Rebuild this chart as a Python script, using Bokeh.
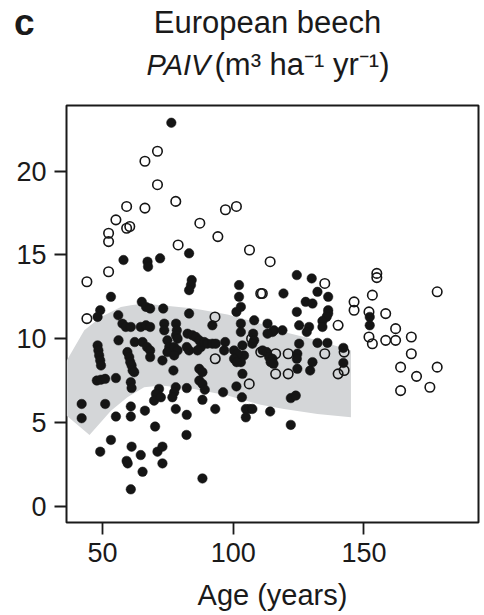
from bokeh.plotting import figure
from bokeh.models import Range1d, FixedTicker, LinearAxis
from bokeh.layouts import column
from bokeh.core.properties import value
from bokeh.embed import file_html
from bokeh.resources import INLINE

# ---- data ----
filled_age = [76.3, 58.0, 67.2, 67.4, 72.0, 83.1, 84.1, 83.8, 83.1, 53.2, 102.2, 102.2, 102.9, 101.2, 49.1, 48.1,
              65.0, 66.6, 68.2, 73.2, 83.1, 56.0,
              48.1, 48.4, 48.7, 49.1, 49.4, 47.8, 49.4, 51.0, 55.1, 42.0, 42.0, 51.0, 49.1, 53.2, 55.1, 57.6, 58.9,
              60.8, 56.1, 59.5, 60.2, 60.6, 61.1, 61.5, 62.1, 60.8, 61.1, 62.3, 60.8, 60.8, 66.2, 64.6, 66.6, 68.2,
              65.3, 67.0, 68.2, 68.2, 73.6, 73.6, 74.8, 75.5, 74.8, 78.1, 78.4, 78.1, 78.7, 77.4, 78.7, 77.4, 72.9,
              77.1, 71.6, 70.4, 69.7, 72.3, 78.0, 77.4, 76.7, 82.2, 78.0, 82.2, 70.1, 82.1, 61.1, 64.6, 59.2, 59.6,
              65.3, 60.8, 71.0, 72.9, 72.9, 88.2, 82.5, 84.4, 83.1, 82.2, 85.7, 87.0, 87.6, 86.3, 88.9, 90.1, 92.0,
              93.3, 87.0, 88.2, 87.0, 88.2, 89.1, 88.2, 93.1, 96.1, 92.0, 96.9, 96.5, 102.9, 102.9, 103.5, 104.1,
              102.9, 103.5, 101.2, 103.3, 104.8, 104.8, 106.1, 107.3, 107.6, 108.0, 107.3, 108.0,
              100.3, 101.6, 100.3, 101.3,
              124.3, 130.0, 132.2, 136.3, 119.2, 127.7, 130.3, 136.3, 136.3, 135.7, 124.3, 152.2, 113.1, 125.2,
              129.0, 134.1, 134.1, 115.6, 118.8,
              128.1, 152.2, 115.0, 113.1, 111.2, 112.8, 113.7, 115.0, 114.3, 115.4, 124.5, 124.3, 124.5, 125.2,
              132.2, 136.0, 130.3, 129.4, 142.1, 142.1, 122.0, 123.9, 114.1, 122.0]
filled_paiv = [22.9, 14.7, 14.6, 14.3, 14.8, 15.1, 13.5, 13.2, 12.9, 12.5, 13.2, 12.5, 11.9, 11.6, 11.7, 11.3,
               12.2, 11.9, 11.8, 11.8, 11.5, 11.4,
               9.6, 9.3, 9.0, 8.7, 8.4, 7.5, 7.55, 7.6, 7.65, 6.1, 5.25, 6.1, 3.25, 3.95, 5.35, 10.9, 10.7,
               10.7, 9.9, 9.2, 8.9, 8.6, 8.4, 8.1, 8.0, 7.4, 7.05, 9.8, 5.95, 5.35, 5.7, 10.7, 10.8, 10.7,
               9.8, 9.5, 9.3, 8.9, 10.9, 10.5, 9.9, 9.5, 9.2, 10.9, 10.5, 10.2, 10.0, 9.5, 9.3, 9.0, 8.7,
               8.1, 7.0, 6.7, 6.3, 6.5, 7.1, 6.8, 6.5, 7.05, 5.8, 5.45, 4.75, 4.25, 3.55, 3.05, 2.7, 2.55,
               2.05, 1.0, 3.25, 3.55, 2.55, 1.65, 10.3, 10.2, 9.3, 9.5, 10.1, 9.9, 9.5, 9.3, 9.8, 9.7, 9.7,
               9.7, 8.2, 8.0, 7.5, 7.3, 6.95, 6.35, 5.8, 6.8, 10.8, 9.8, 9.3, 10.9, 10.4, 9.6, 9.0,
               8.6, 7.9, 7.15, 6.5, 5.8, 5.3, 5.8, 5.8, 10.3, 9.9, 9.7, 11.1,
               9.3, 9.1, 8.8, 8.6,
               13.8, 13.6, 12.8, 12.5, 12.7, 12.2, 12.1, 11.7, 11.5, 11.3, 11.6, 11.3, 10.9, 10.8,
               10.7, 11.05, 10.7, 10.5, 10.5,
               10.4, 10.8, 10.4, 10.3, 9.3, 9.2, 8.9, 8.8, 8.6, 8.5, 9.1, 8.8, 8.2, 9.7,
               9.75, 9.75, 8.6, 8.1, 9.45, 8.55, 6.45, 6.6, 5.65, 4.85]

open_age = [71.0, 66.2, 71.0, 78.0, 59.2, 66.2, 55.1, 59.2, 60.4, 52.3, 52.3, 87.2, 97.0, 101.2, 94.1, 78.9,
            106.2, 52.3, 44.0, 44.0, 93.0, 110.5, 93.1, 106.1, 107.0, 110.5,
            114.1, 135.0, 154.9, 154.9, 178.0, 111.1, 146.2, 146.2, 153.2, 151.9, 158.3, 140.1, 162.1,
            151.9, 153.2, 158.3, 162.1, 168.1, 168.1, 164.0, 170.1, 178.0, 175.2, 164.0, 116.2, 116.2,
            121.0, 121.0, 135.0, 142.4, 142.4, 140.1]
open_paiv = [21.2, 20.6, 19.2, 18.2, 17.9, 17.8, 17.1, 16.6, 16.7, 16.3, 15.8, 16.9, 17.7, 17.9, 16.1, 15.6,
             15.3, 14.0, 13.4, 11.2, 11.3, 12.7, 8.8, 7.3, 10.0, 9.2,
             14.6, 13.3, 13.9, 13.65, 12.8, 12.7, 12.2, 11.7, 12.6, 11.6, 11.5, 10.8, 10.6,
             10.1, 9.7, 9.9, 9.9, 10.1, 9.1, 8.3, 7.75, 8.3, 7.1, 6.9, 9.1, 7.9,
             7.9, 9.1, 9.1, 9.2, 8.1, 7.9]

band_age = [36.3, 43.0, 49.4, 57.0, 60.8, 65.9, 72.3, 85.0, 97.8, 110.5, 119.4, 132.2, 145.0,
            145.0, 132.2, 119.4, 110.5, 97.8, 85.0, 72.3, 65.9, 59.5, 53.2, 45.0, 36.3]
band_paiv = [8.7, 10.5, 11.3, 11.9, 12.0, 12.1, 12.0, 11.8, 11.45, 10.9, 10.4, 9.9, 9.3,
             5.3, 5.5, 5.8, 6.05, 6.6, 7.0, 7.2, 7.1, 6.5, 5.7, 4.25, 5.4]

x_ticks = [50, 100, 150]
y_ticks = [0, 5, 10, 15, 20]

panel_letter = "c"
title_text = "European beech"
var_text = "PAIV"
unit_text = "(m³ ha⁻¹ yr⁻¹)"
x_label = "Age (years)"

FONT = "Liberation Sans"
INK = "#1a1a1a"
LEFT, RIGHT = 66, 478          # plot frame edges in page pixels
H1, H2 = 44, 59                # heights of the two heading rows


def heading(height):
    f = figure(width=484, height=height, output_backend="svg", toolbar_location=None,
               x_range=Range1d(LEFT, RIGHT), y_range=Range1d(height, 0),
               x_axis_type=None, y_axis_type=None,
               min_border_left=LEFT, min_border_right=484 - RIGHT,
               min_border_top=0, min_border_bottom=0, outline_line_color=None)
    f.grid.visible = False
    return f


# row 1: panel letter (as a left axis label) + species name
head1 = heading(H1)
letter_axis = LinearAxis(ticker=FixedTicker(ticks=[]), axis_line_color=None,
                         major_tick_line_color=None, minor_tick_line_color=None,
                         major_label_text_font_size="0px",
                         axis_label=panel_letter, axis_label_orientation="horizontal",
                         axis_label_text_font=FONT, axis_label_text_font_size="37px",
                         axis_label_text_font_style="bold", axis_label_text_color=INK,
                         axis_label_standoff=32)
head1.add_layout(letter_axis, "left")
head1.text(x=[267], y=[H1 / 2], text=[title_text], text_font=value(FONT), text_font_size="31px",
           text_align="center", text_baseline="middle", text_color=INK)

# row 2: variable and units
head2 = heading(H2)
head2.text(x=[146], y=[64 - H1], text=[var_text], text_font=value(FONT), text_font_size="29px",
           text_font_style="italic", text_align="left", text_baseline="middle", text_color=INK)
head2.text(x=[214], y=[64 - H1], text=[unit_text], text_font=value(FONT), text_font_size="31px",
           text_align="left", text_baseline="middle", text_color=INK)

# ---- main scatter ----
p = figure(width=484, height=615 - H1 - H2, output_backend="svg", toolbar_location=None,
           x_range=Range1d(36.2, 193.8), y_range=Range1d(-0.98, 23.93),
           min_border_left=LEFT, min_border_right=484 - RIGHT, min_border_top=2, min_border_bottom=93)

p.patch(band_age, band_paiv, fill_color="#d4d6d8", line_color=None)
p.scatter(filled_age, filled_paiv, size=9.5, fill_color="#151515", line_color="#151515", line_width=0.5)
p.scatter(open_age, open_paiv, size=9.5, fill_color=None, line_color="#151515", line_width=1.6)

p.grid.visible = False
p.outline_line_color = INK
p.outline_line_width = 2
p.outline_line_alpha = 1

for ax in (p.xaxis[0], p.yaxis[0]):
    ax.axis_line_color = None
    ax.major_tick_line_color = INK
    ax.major_tick_line_width = 1.8
    ax.major_tick_out = 12
    ax.major_tick_in = 0
    ax.minor_tick_line_color = None
    ax.major_label_text_font = FONT
    ax.major_label_text_font_size = "27px"
    ax.major_label_text_color = INK
    ax.major_label_standoff = 8

p.xaxis.ticker = FixedTicker(ticks=x_ticks)
p.yaxis.ticker = FixedTicker(ticks=y_ticks)
p.xaxis.axis_label = x_label
p.xaxis.axis_label_text_font = FONT
p.xaxis.axis_label_text_font_size = "29px"
p.xaxis.axis_label_text_font_style = "normal"
p.xaxis.axis_label_text_color = INK
p.xaxis.axis_label_standoff = 14

layout = column(head1, head2, p, spacing=0)
open("out.html", "w").write(file_html(layout, INLINE))
